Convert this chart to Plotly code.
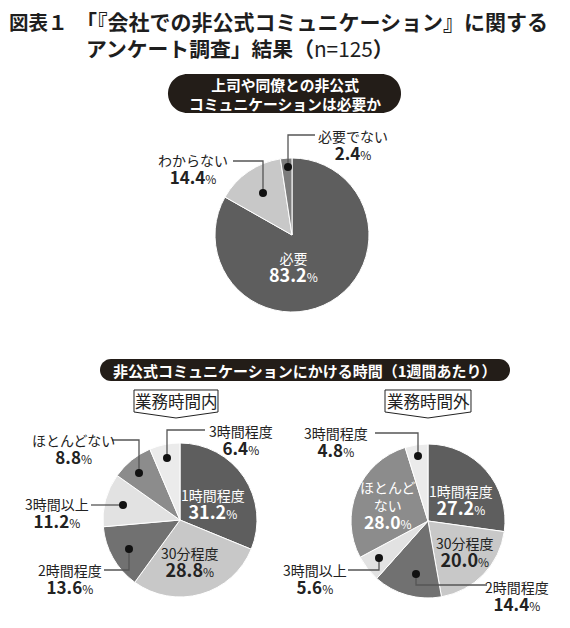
import plotly.graph_objects as go

# the page body has an 8px margin, so the figure is drawn 8px in
OFF = 8
W, H = 570 - 2 * OFF, 628 - 2 * OFF
FONT = "Noto Sans CJK JP"

# data
need_labels = ["必要", "わからない", "必要でない"]
need_values = [83.2, 14.4, 2.4]
need_colors = ["#5e5e5e", "#c8c8c8", "#7d7d7d"]

time_labels = ["1時間程度", "30分程度", "2時間程度", "3時間以上", "ほとんどない", "3時間程度"]
inside_values = [31.2, 28.8, 13.6, 11.2, 8.8, 6.4]
outside_values = [27.2, 20.0, 14.4, 5.6, 28.0, 4.8]
time_colors = ["#5e5e5e", "#c8c8c8", "#717171", "#e2e2e2", "#8c8c8c", "#ebebeb"]


def px(x):
    return (x - OFF) / W


def py(y):
    return 1 - (y - OFF) / H


def P(x, y):
    return f"{px(x):.5f},{py(y):.5f}"


def domain(cx, cy, r):
    return dict(x=[px(cx - r), px(cx + r)], y=[py(cy + r), py(cy - r)])


fig = go.Figure()

pies = [
    (need_labels, need_values, need_colors, (292, 235, 77)),
    (time_labels, inside_values, time_colors, (180, 520, 77)),
    (time_labels, outside_values, time_colors, (428, 521, 77)),
]
for labels, values, colors, (cx, cy, r) in pies:
    fig.add_trace(go.Pie(
        labels=labels, values=values, sort=False, direction="clockwise",
        rotation=0, textinfo="none", domain=domain(cx, cy, r),
        marker=dict(colors=colors, line=dict(color="white", width=1)),
        showlegend=False,
    ))

shapes = []
annotations = []


def text(x, y, s, size=13, color="#222", bold=False):
    if bold:
        s = f"<b>{s}</b>"
    annotations.append(dict(
        x=px(x), y=py(y), xref="paper", yref="paper", text=s, showarrow=False,
        xanchor="center", yanchor="middle", align="center",
        font=dict(family=FONT, size=size, color=color),
    ))


def label(x, y, name, v, color="#222", big=17):
    # name on top, value below, as one text block
    s = (f"{name}<br><span style='font-size:{big}px'><b>{v:.1f}</b></span>"
         f"<span style='font-size:12px'>%</span>")
    text(x, y, s, 14, color)


def leader(points):
    d = "M " + " L ".join(P(x, y) for x, y in points)
    shapes.append(dict(type="path", path=d, xref="paper", yref="paper",
                       line=dict(color="#555", width=1.3)))
    x, y = points[-1]
    shapes.append(dict(type="circle", xref="paper", yref="paper",
                       x0=px(x - 4), x1=px(x + 4), y0=py(y + 4), y1=py(y - 4),
                       fillcolor="#111", line=dict(width=0)))


def pill(x0, y0, x1, y1):
    r = (y1 - y0) / 2
    k = 0.5523 * r
    d = (f"M {P(x0 + r, y0)} L {P(x1 - r, y0)} "
         f"C {P(x1 - r + k, y0)} {P(x1, y0 + r - k)} {P(x1, y0 + r)} "
         f"C {P(x1, y0 + r + k)} {P(x1 - r + k, y1)} {P(x1 - r, y1)} "
         f"L {P(x0 + r, y1)} "
         f"C {P(x0 + r - k, y1)} {P(x0, y1 - r + k)} {P(x0, y1 - r)} "
         f"C {P(x0, y1 - r - k)} {P(x0 + r - k, y0)} {P(x0 + r, y0)} Z")
    shapes.append(dict(type="path", path=d, xref="paper", yref="paper",
                       fillcolor="#231d18", line=dict(width=0)))


def tag(x0, y0, x1, y1, tip):
    cx = (x0 + x1) / 2
    d = (f"M {P(x0, y0)} L {P(x1, y0)} L {P(x1, y1)} L {P(cx, tip)} "
         f"L {P(x0, y1)} Z")
    shapes.append(dict(type="path", path=d, xref="paper", yref="paper",
                       fillcolor="white", line=dict(color="#222", width=1)))


# title
def title(x, y, s, size):
    annotations.append(dict(
        x=px(x), y=py(y), xref="paper", yref="paper", showarrow=False,
        xanchor="left", yanchor="middle", text=s,
        font=dict(family=FONT, size=size, color="#1e1e1e")))


title(7, 21, "<b>図表１</b>", 19.5)
title(74, 21, "<b>「『会社での非公式コミュニケーション』に関する</b>", 21)
title(84, 48, "<b>アンケート調査」結果（</b>n=125<b>）</b>", 20.8)

# section headers
pill(168, 74, 401, 113)
text(285, 94, "上司や同僚との非公式<br>コミュニケーションは必要か", 14.8, "white", True)

pill(100, 359, 510, 381)
text(305, 370, "非公式コミュニケーションにかける時間（1週間あたり）", 15, "white", True)

tag(134, 390, 218, 412, 418)
text(176, 401, "業務時間内", 16.5)
tag(385, 390, 471, 412, 418)
text(428, 401, "業務時間外", 16.5)

# pie 1 labels
label(293, 267, need_labels[0], need_values[0], "white", 18)
label(193, 170, need_labels[1], need_values[1])
leader([(233, 161), (263, 161), (263, 193)])
label(353, 145, need_labels[2], need_values[2])
leader([(315, 135), (288, 135), (288, 167)])

# pie 2 labels (業務時間内)
v = inside_values
label(213, 504, time_labels[0], v[0], "white", 18)
label(190, 562, time_labels[1], v[1], "#222", 18)
label(70, 579, time_labels[2], v[2])
leader([(104, 570), (129, 570), (129, 549)])
label(57, 514, time_labels[3], v[3])
leader([(91, 505), (123, 505)])
label(73, 449, time_labels[4], v[4])
leader([(112, 440), (139, 440), (139, 473)])
label(241, 440, time_labels[5], v[5])
leader([(205, 430), (167, 430), (167, 458)])

# pie 3 labels (業務時間外)
v = outside_values
label(461, 500, time_labels[0], v[0], "white", 18)
label(465, 552, time_labels[1], v[1], "#222", 18)
label(517, 596, time_labels[2], v[2])
leader([(487, 585), (416, 585), (416, 574)])
label(315, 579, time_labels[3], v[3])
leader([(348, 570), (379, 570), (379, 558)])
label(388, 505, "ほとんど<br>ない", v[4], "white", 17.5)
label(336, 442, time_labels[5], v[5])
leader([(375, 433), (418, 433), (418, 456)])

fig.update_layout(
    width=W, height=H, margin=dict(l=0, r=0, t=0, b=0),
    paper_bgcolor="white", plot_bgcolor="white",
    shapes=shapes, annotations=annotations,
    font=dict(family=FONT),
)

fig.write_html("out.html")
